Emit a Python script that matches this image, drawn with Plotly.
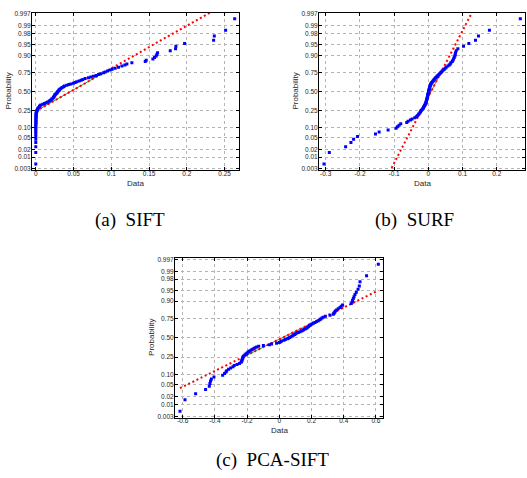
import plotly.graph_objects as go
from statistics import NormalDist

# ---------------- data ----------------
prob_ticks = [0.003, 0.01, 0.02, 0.05, 0.10, 0.25, 0.50, 0.75, 0.90, 0.95, 0.98, 0.99, 0.997]
prob_labels = ["0.003", "0.01", "0.02", "0.05", "0.10", "0.25", "0.50",
               "0.75", "0.90", "0.95", "0.98", "0.99", "0.997"]

sift_ticks = [0, 0.05, 0.1, 0.15, 0.2, 0.25]
sift_tick_labels = ["0", "0.05", "0.1", "0.15", "0.2", "0.25"]
surf_ticks = [-0.3, -0.2, -0.1, 0, 0.1, 0.2]
surf_tick_labels = ["-0.3", "-0.2", "-0.1", "0", "0.1", "0.2"]
pca_ticks = [-0.6, -0.4, -0.2, 0, 0.2, 0.4, 0.6]
pca_tick_labels = ["-0.6", "-0.4", "-0.2", "0", "0.2", "0.4", "0.6"]

captions = ["(a)\u00a0\u00a0SIFT", "(b)\u00a0\u00a0SURF", "(c)\u00a0\u00a0PCA-SIFT"]

# sorted samples (100 each)
sift_data = [
    0.0, 0.0, 0.0, 0.0, 0.0, 0.0, 0.0, 0.0, 0.0, 0.0,
    0.0, 0.0, 0.0002, 0.0002, 0.0002, 0.0002, 0.0002, 0.0002, 0.0004, 0.0004,
    0.0004, 0.0004, 0.0006, 0.0012, 0.0016, 0.0020, 0.0025, 0.0030, 0.0040, 0.0050,
    0.0055, 0.0066, 0.0093, 0.0115, 0.0137, 0.0159, 0.0177, 0.0190, 0.0203, 0.0212,
    0.0225, 0.0234, 0.0239, 0.0247, 0.0252, 0.0256, 0.0265, 0.0278, 0.0283, 0.0287,
    0.0300, 0.0309, 0.0311, 0.0322, 0.0336, 0.0349, 0.0367, 0.0380, 0.0411, 0.0437,
    0.0464, 0.0499, 0.0521, 0.0543, 0.0574, 0.0601, 0.0623, 0.0654, 0.0698, 0.0729,
    0.0764, 0.0799, 0.0830, 0.0861, 0.0897, 0.0919, 0.0950, 0.0985, 0.1011, 0.1051,
    0.1095, 0.1140, 0.1179, 0.1206, 0.1272, 0.1449, 0.1462, 0.1550, 0.1572, 0.1594,
    0.1603, 0.1612, 0.1780, 0.1850, 0.1855, 0.1970, 0.2354, 0.2363, 0.2513, 0.2633,
]

surf_data = [
    -0.3049, -0.2893, -0.2417, -0.2262, -0.2184, -0.2068, -0.1544, -0.1437, -0.1175, -0.0942,
    -0.0903, -0.0854, -0.0806, -0.0631, -0.0592, -0.0524, -0.0476, -0.0398, -0.0350, -0.0320,
    -0.0291, -0.0272, -0.0248, -0.0228, -0.0214, -0.0194, -0.0165, -0.0150, -0.0141, -0.0126,
    -0.0112, -0.0102, -0.0087, -0.0073, -0.0068, -0.0063, -0.0058, -0.0053, -0.0049, -0.0039,
    -0.0034, -0.0029, -0.0024, -0.0019, -0.0017, -0.0012, -0.0007, 0.0000, 0.0005, 0.0010,
    0.0015, 0.0019, 0.0024, 0.0029, 0.0034, 0.0039, 0.0044, 0.0049, 0.0058, 0.0068,
    0.0078, 0.0087, 0.0102, 0.0121, 0.0141, 0.0155, 0.0175, 0.0194, 0.0214, 0.0238,
    0.0262, 0.0282, 0.0311, 0.0335, 0.0359, 0.0383, 0.0408, 0.0437, 0.0466, 0.0495,
    0.0524, 0.0573, 0.0612, 0.0641, 0.0660, 0.0699, 0.0718, 0.0738, 0.0757, 0.0777,
    0.0786, 0.0796, 0.0816, 0.0864, 0.1029, 0.1184, 0.1379, 0.1466, 0.1786, 0.2689,
]

pca_data = [
    -0.617, -0.586, -0.520, -0.458, -0.435, -0.431, -0.427, -0.422, -0.406, -0.352,
    -0.340, -0.331, -0.327, -0.315, -0.302, -0.288, -0.280, -0.263, -0.248, -0.238,
    -0.234, -0.232, -0.230, -0.228, -0.226, -0.224, -0.219, -0.213, -0.207, -0.201,
    -0.195, -0.188, -0.182, -0.174, -0.166, -0.157, -0.151, -0.141, -0.128, -0.099,
    -0.062, -0.048, -0.017, 0.000, 0.008, 0.014, 0.029, 0.037, 0.050, 0.056,
    0.064, 0.072, 0.081, 0.087, 0.095, 0.101, 0.108, 0.118, 0.128, 0.139,
    0.147, 0.153, 0.164, 0.170, 0.176, 0.182, 0.188, 0.195, 0.203, 0.211,
    0.222, 0.232, 0.242, 0.251, 0.257, 0.265, 0.273, 0.286, 0.315, 0.335,
    0.340, 0.344, 0.348, 0.356, 0.366, 0.377, 0.385, 0.393, 0.447, 0.453,
    0.455, 0.460, 0.464, 0.470, 0.478, 0.489, 0.497, 0.501, 0.542, 0.615,
]

# ---------------- helpers (normal probability plot) ----------------
nd = NormalDist()


def probit(p):
    return nd.inv_cdf(p)


def percentile(sorted_vals, pct):
    n = len(sorted_vals)
    pos = n * pct / 100.0 + 0.5
    lo = int(pos)
    frac = pos - lo
    lo = max(1, min(n, lo))
    hi = max(1, min(n, lo + 1))
    return sorted_vals[lo - 1] + frac * (sorted_vals[hi - 1] - sorted_vals[lo - 1])


W, H = 527, 478
BLUE = "#0000ff"
RED = "#ff0000"
GREEN = "#2e9a2e"
FONT = "Liberation Sans, Arial, sans-serif"
TXT = "#262626"

panels = [
    dict(data=sift_data, xr=[-0.005, 0.269], ticks=sift_ticks, labels=sift_tick_labels,
         xd=[32 / W, 239 / W], yd=[1 - 169 / H, 1 - 10 / H]),
    dict(data=surf_data, xr=[-0.3195, 0.2826], ticks=surf_ticks, labels=surf_tick_labels,
         xd=[319 / W, 525 / W], yd=[1 - 169 / H, 1 - 10 / H]),
    dict(data=pca_data, xr=[-0.648, 0.644], ticks=pca_ticks, labels=pca_tick_labels,
         xd=[175 / W, 383 / W], yd=[1 - 419 / H, 1 - 258 / H]),
]

fig = go.Figure()
layout = dict(
    width=W, height=H,
    margin=dict(l=0, r=0, t=0, b=0),
    paper_bgcolor="white", plot_bgcolor="white",
    showlegend=False,
    font=dict(family=FONT, size=7, color=TXT),
    annotations=[],
)

yr = [-2.795, 2.783]
ztick = [probit(p) for p in prob_ticks]

for k, pn in enumerate(panels):
    sfx = "" if k == 0 else str(k + 1)
    xa, ya = "x" + sfx, "y" + sfx
    vals = sorted(pn["data"])
    n = len(vals)
    zs = [probit((i - 0.5) / n) for i in range(1, n + 1)]
    q1 = percentile(vals, 25)
    q3 = percentile(vals, 75)
    z1, z3 = probit(0.25), probit(0.75)
    slope = (z3 - z1) / (q3 - q1)

    def zfit(x):
        return z1 + slope * (x - q1)

    xmin, xmax = vals[0], vals[-1]
    fig.add_trace(go.Scatter(x=[q1, q3], y=[z1, z3], mode="lines",
                             line=dict(color=GREEN, width=1),
                             xaxis=xa, yaxis=ya, hoverinfo="skip"))
    fig.add_trace(go.Scatter(x=[xmin, xmax], y=[zfit(xmin), zfit(xmax)], mode="lines",
                             line=dict(color=RED, width=2, dash="2px,2.6px"),
                             xaxis=xa, yaxis=ya, hoverinfo="skip"))
    fig.add_trace(go.Scatter(x=vals, y=zs, mode="markers",
                             marker=dict(symbol="square", size=3, color=BLUE,
                                         line=dict(width=0)),
                             xaxis=xa, yaxis=ya))

    common = dict(showline=True, linecolor="black", linewidth=1, mirror="ticks",
                  ticks="inside", ticklen=3, tickcolor="black", tickwidth=1,
                  showgrid=True, gridcolor="#b4b4b4", gridwidth=1, griddash="dot",
                  zeroline=False, tickfont=dict(family=FONT, size=6.5, color=TXT))
    layout["xaxis" + sfx] = dict(common, domain=pn["xd"], range=pn["xr"], anchor=ya,
                                 tickvals=pn["ticks"], ticktext=pn["labels"],
                                 ticklabelstandoff=-3)
    layout["yaxis" + sfx] = dict(common, domain=pn["yd"], range=yr, anchor=xa,
                                 tickvals=ztick, ticktext=prob_labels,
                                 ticklabelstandoff=-1)

    x0, x1 = pn["xd"]
    y0, y1 = pn["yd"]
    layout["annotations"].append(dict(
        text="Data", xref="paper", yref="paper", x=(x0 + x1) / 2, y=y0 - 13 / H,
        xanchor="center", yanchor="middle", showarrow=False,
        font=dict(family=FONT, size=8, color=TXT)))
    layout["annotations"].append(dict(
        text="Probability", xref="paper", yref="paper", x=x0 - 23 / W, y=(y0 + y1) / 2,
        xanchor="center", yanchor="middle", showarrow=False, textangle=-90,
        font=dict(family=FONT, size=8, color=TXT)))

cap_pos = [(129.5, 219.5), (414, 219.5), (272, 461.5)]
for txt, (cx, cy) in zip(captions, cap_pos):
    layout["annotations"].append(dict(
        text=txt, xref="paper", yref="paper", x=cx / W, y=1 - cy / H,
        xanchor="center", yanchor="middle", showarrow=False,
        font=dict(family="Liberation Serif, Times New Roman, serif", size=19, color="black")))

fig.update_layout(**layout)
fig.write_html("out.html", config={"displayModeBar": False},
               post_script="document.body.style.margin='0';")
